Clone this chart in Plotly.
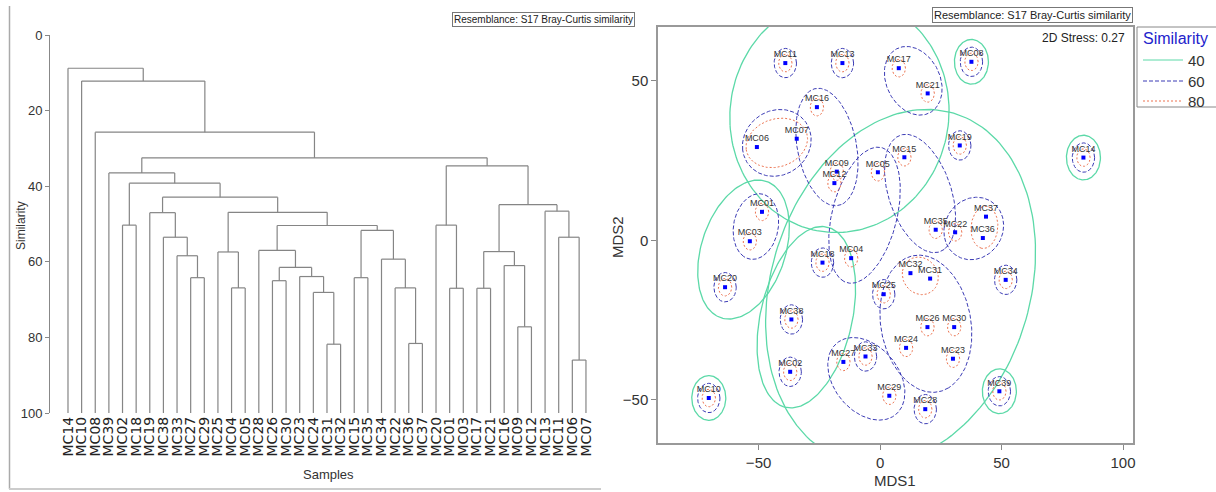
import numpy as np
import plotly.graph_objects as go

# ---------------- data ----------------
leaf_order = ["MC14", "MC10", "MC08", "MC39", "MC02", "MC18", "MC19", "MC38", "MC33", "MC27",
              "MC29", "MC25", "MC04", "MC05", "MC28", "MC26", "MC30", "MC23", "MC24", "MC31",
              "MC32", "MC15", "MC35", "MC34", "MC22", "MC36", "MC37", "MC20", "MC01", "MC03",
              "MC17", "MC21", "MC16", "MC09", "MC12", "MC13", "MC11", "MC06", "MC07"]

# dendrogram merges: node Nk joins merge_a[k] and merge_b[k] at merge_sim[k] (% similarity)
merge_a = ["MC31", "MC24", "MC23", "MC26", "N3", "MC28", "MC36", "MC22", "MC34", "MC15",
           "N9", "N5", "MC04", "MC25", "N13", "MC27", "MC33", "MC38", "MC19", "N18",
           "MC02", "N20", "MC39", "MC01", "MC20", "MC17", "MC09", "MC16", "N25", "MC06",
           "MC11", "MC13", "N28", "N24", "N22", "MC08", "MC10", "MC14"]
merge_b = ["MC32", "N0", "N1", "MC30", "N2", "N4", "MC37", "N6", "N7", "MC35",
           "N8", "N10", "MC05", "N12", "N11", "MC29", "N15", "N16", "N17", "N14",
           "MC18", "N19", "N21", "MC03", "N23", "MC21", "MC12", "N26", "N27", "MC07",
           "N29", "N30", "N31", "N32", "N33", "N34", "N35", "N36"]
merge_sim = [81.8, 68.1, 63.9, 65.0, 61.5, 57.0, 81.6, 66.9, 59.3, 64.2,
             51.7, 50.4, 66.9, 57.4, 46.9, 64.2, 58.4, 53.5, 47.0, 42.9,
             50.3, 39.2, 36.5, 67.0, 50.3, 67.0, 77.2, 61.0, 57.3, 86.0,
             53.5, 46.6, 44.9, 34.6, 32.5, 25.7, 12.2, 8.8]

sim_ticks = [0, 20, 40, 60, 80, 100]

mds_labels = ["MC11", "MC13", "MC17", "MC16", "MC07", "MC06", "MC09", "MC12", "MC05", "MC15",
              "MC19", "MC08", "MC21", "MC14", "MC37", "MC36", "MC22", "MC35", "MC01", "MC03",
              "MC04", "MC18", "MC20", "MC25", "MC32", "MC31", "MC34", "MC38", "MC26", "MC30",
              "MC24", "MC23", "MC27", "MC33", "MC02", "MC29", "MC28", "MC39", "MC10"]
mds1 = [-39.0, -15.5, 7.7, -26.0, -34.3, -50.7, -17.8, -18.8, -0.9, 10.0,
        32.8, 37.6, 19.6, 83.7, 43.6, 42.3, 30.9, 22.9, -48.6, -53.6,
        -11.9, -23.7, -63.8, 1.5, 12.5, 20.6, 51.7, -36.5, 19.5, 30.5,
        10.7, 30.0, -15.1, -6.0, -37.0, 3.8, 18.6, 49.1, -70.5]
mds2 = [55.5, 55.5, 53.9, 41.7, 31.8, 29.2, 21.5, 17.9, 21.3, 26.0,
        29.7, 55.9, 46.0, 25.9, 7.4, 0.7, 2.5, 3.3, 8.9, -0.3,
        -5.6, -7.0, -14.7, -16.9, -10.3, -12.0, -12.4, -24.8, -27.2, -27.2,
        -33.7, -37.1, -38.1, -36.4, -41.2, -48.7, -52.9, -47.3, -49.4]

mds1_ticks = [-50, 0, 50, 100]
mds2_ticks = [-50, 0, 50]
similarity_levels = [40, 60, 80]
stress_text = "2D Stress: 0.27"

# ---------------- styles ----------------
W, H = 1216, 492
def px(x):
    return x / W
def py(y):
    return 1 - y / H

LEVEL_STYLE = {
    40: dict(color="#5cd9a8", dash="solid", width=1.3, pad=7.0),
    60: dict(color="#3b3bb5", dash="4px,2px", width=1.0, pad=4.6),
    80: dict(color="#ec7350", dash="2px,2px", width=1.0, pad=2.75),
}
NARROW = "Liberation Sans Narrow, Arial Narrow, Liberation Sans, Arial, sans-serif"
SANS = "Liberation Sans, Arial, sans-serif"

fig = go.Figure()

# ---------------- dendrogram ----------------
xpos = {name: float(i) for i, name in enumerate(leaf_order)}
ypos = {name: 100.0 for name in leaf_order}
members = {name: [name] for name in leaf_order}
dx, dy = [], []
for k, (a, b, s) in enumerate(zip(merge_a, merge_b, merge_sim)):
    node = f"N{k}"
    for c in (a, b):
        dx += [xpos[c], xpos[c], None]
        dy += [ypos[c], s, None]
    dx += [xpos[a], xpos[b], None]
    dy += [s, s, None]
    xpos[node] = (xpos[a] + xpos[b]) / 2
    ypos[node] = s
    members[node] = members[a] + members[b]

fig.add_trace(go.Scatter(x=dx, y=dy, mode="lines", xaxis="x", yaxis="y",
                         line=dict(color="#858585", width=1.2), hoverinfo="skip",
                         showlegend=False))

# ---------------- MDS clusters ----------------
def clusters_at(level):
    parent = {n: n for n in leaf_order}
    def find(n):
        while parent[n] != n:
            parent[n] = parent[parent[n]]
            n = parent[n]
        return n
    for a, b, s in zip(merge_a, merge_b, merge_sim):
        if s >= level:
            ra, rb = find(members[a][0]), find(members[b][0])
            parent[ra] = rb
    groups = {}
    for n in leaf_order:
        groups.setdefault(find(n), []).append(n)
    return list(groups.values())

coord = {lab: (x, y) for lab, x, y in zip(mds_labels, mds1, mds2)}

def mvee(P, tol=1e-5, iters=4000):
    N, d = P.shape
    Q = np.vstack([P.T, np.ones(N)])
    u = np.ones(N) / N
    for _ in range(iters):
        X = (Q * u) @ Q.T
        M = np.einsum("ij,ji->i", Q.T @ np.linalg.inv(X), Q)
        j = int(np.argmax(M))
        step = (M[j] - d - 1) / ((d + 1) * (M[j] - 1))
        nu = (1 - step) * u
        nu[j] += step
        if np.linalg.norm(nu - u) < tol:
            u = nu
            break
        u = nu
    c = P.T @ u
    A = np.linalg.inv((P.T * u) @ P - np.outer(c, c)) / d
    return A, c

def outline(names, r, n=180):
    P = np.array([coord[m] for m in names], dtype=float)
    t = np.linspace(0, 2 * np.pi, n)
    if len(P) == 1:
        return P[0, 0] + r * np.cos(t), P[0, 1] + r * np.sin(t)
    s = np.linspace(0, 2 * np.pi, 24, endpoint=False)
    ring = np.column_stack([np.cos(s), np.sin(s)]) * r
    Pp = (P[:, None, :] + ring[None, :, :]).reshape(-1, 2)
    A, c = mvee(Pp)
    lam, V = np.linalg.eigh(A)
    a = 1 / np.sqrt(lam[0])          # major
    b = 1 / np.sqrt(lam[1])          # minor
    u, v = V[:, 0], V[:, 1]
    b = max(b, 1.28 * np.sqrt(a * r))
    if len(P) >= 4:                  # larger groups get rounder, looser outlines
        b = max(b, 0.82 * a)
        a, b = a * 1.02, b * 1.02
    pts = c[None, :] + np.outer(a * np.cos(t), u) + np.outer(b * np.sin(t), v)
    return pts[:, 0], pts[:, 1]

for lvl in similarity_levels:
    st = LEVEL_STYLE[lvl]
    ox, oy = [], []
    for g in clusters_at(lvl):
        ex, ey = outline(g, st["pad"])
        ox += list(ex) + [None]
        oy += list(ey) + [None]
    fig.add_trace(go.Scatter(x=ox, y=oy, mode="lines", xaxis="x2", yaxis="y2",
                             line=dict(color=st["color"], dash=st["dash"], width=st["width"]),
                             hoverinfo="skip", showlegend=False))

fig.add_trace(go.Scatter(x=mds1, y=mds2, text=mds_labels, mode="markers+text",
                         xaxis="x2", yaxis="y2", textposition="top center",
                         marker=dict(symbol="square", size=4, color="#0000ff"),
                         textfont=dict(family=NARROW, size=9, color="#333333"),
                         showlegend=False))

# ---------------- layout ----------------
fig.update_layout(
    width=W, height=H,
    margin=dict(l=0, r=0, t=0, b=0, pad=0, autoexpand=False),
    paper_bgcolor="white", plot_bgcolor="white",
    font=dict(family=SANS, color="#333333"),
    showlegend=False,
    xaxis=dict(domain=[px(50), px(600)], range=[-1.32, 39.03], anchor="y",
               tickmode="array", tickvals=list(range(len(leaf_order))), ticktext=leaf_order,
               tickangle=-90, ticks="", showline=False, showgrid=False, zeroline=False,
               tickfont=dict(family="DejaVu Sans, sans-serif", size=14, color="#222222")),
    yaxis=dict(domain=[py(413), py(35)], range=[100, 0], anchor="x",
               tickmode="array", tickvals=sim_ticks, ticks="outside", ticklen=4,
               tickcolor="#888888", showline=True, linecolor="#888888", linewidth=1,
               showgrid=False, zeroline=False,
               tickfont=dict(family=NARROW, size=13, color="#333333")),
    xaxis2=dict(domain=[px(658), px(1133)], range=[-91.4, 104.1], anchor="y2",
                tickmode="array", tickvals=mds1_ticks, ticks="outside", ticklen=5,
                tickcolor="#888888", showline=True, mirror=True, linecolor="#999999",
                linewidth=1.5, showgrid=False, zeroline=False,
                tickfont=dict(family=NARROW, size=15, color="#333333")),
    yaxis2=dict(domain=[py(443), py(27)], range=[-63.5, 66.8], anchor="x2",
                tickmode="array", tickvals=mds2_ticks, ticks="outside", ticklen=5,
                tickcolor="#888888", showline=True, mirror=True, linecolor="#999999",
                linewidth=1.5, showgrid=False, zeroline=False,
                tickfont=dict(family=NARROW, size=15, color="#333333")),
)

P = dict(xref="paper", yref="paper", showarrow=False)
ann = []
ann.append(dict(text="Similarity", x=px(21), y=py(226), textangle=-90,
                font=dict(family=SANS, size=12, color="#333333"), xanchor="center", yanchor="middle", **P))
ann.append(dict(text="Samples", x=px(328), y=py(474),
                font=dict(family=NARROW, size=13, color="#333333"), xanchor="center", yanchor="middle", **P))
ann.append(dict(text="Resemblance: S17 Bray-Curtis similarity", x=px(452), y=py(19.5),
                xanchor="left", yanchor="middle",
                font=dict(family=NARROW, size=10, color="#222222"),
                bordercolor="#777777", borderwidth=1, borderpad=1, bgcolor="white", **P))
ann.append(dict(text="Resemblance: S17 Bray-Curtis similarity", x=px(1133), y=py(15),
                xanchor="right", yanchor="middle",
                font=dict(family=NARROW, size=11, color="#222222"),
                bordercolor="#777777", borderwidth=1, borderpad=1, bgcolor="white", **P))
ann.append(dict(text=stress_text, x=px(1127), y=py(38), xanchor="right", yanchor="middle",
                font=dict(family=NARROW, size=12, color="#222222"), **P))
ann.append(dict(text="MDS1", x=px(895), y=py(480),
                font=dict(family=NARROW, size=15, color="#333333"), xanchor="center", yanchor="middle", **P))
ann.append(dict(text="MDS2", x=px(617), y=py(237), textangle=-90,
                font=dict(family=NARROW, size=15, color="#333333"), xanchor="center", yanchor="middle", **P))
# legend
ann.append(dict(text="Similarity", x=px(1141), y=py(39), xanchor="left", yanchor="middle",
                font=dict(family=NARROW, size=16, color="#2222cc"), **P))
shapes = []
leg_y = [60, 81, 101]
for lvl, yy in zip(similarity_levels, leg_y):
    st = LEVEL_STYLE[lvl]
    shapes.append(dict(type="line", xref="paper", yref="paper", x0=px(1143), x1=px(1183),
                       y0=py(yy), y1=py(yy), line=dict(color=st["color"], dash=st["dash"], width=1)))
    ann.append(dict(text=str(lvl), x=px(1186), y=py(yy), xanchor="left", yanchor="middle",
                    font=dict(family=NARROW, size=15, color="#333333"), **P))
shapes.append(dict(type="rect", xref="paper", yref="paper", x0=px(1137), x1=px(1230),
                   y0=py(107), y1=py(27), line=dict(color="#888888", width=1)))
# panel frame of the left picture
shapes.append(dict(type="line", xref="paper", yref="paper", x0=px(9.5), x1=px(9.5),
                   y0=py(489), y1=py(6), line=dict(color="#aaaaaa", width=1.5)))
shapes.append(dict(type="line", xref="paper", yref="paper", x0=px(9), x1=px(601),
                   y0=py(489), y1=py(489), line=dict(color="#cccccc", width=2)))

fig.update_layout(annotations=ann, shapes=shapes)
fig.write_html("out.html")
